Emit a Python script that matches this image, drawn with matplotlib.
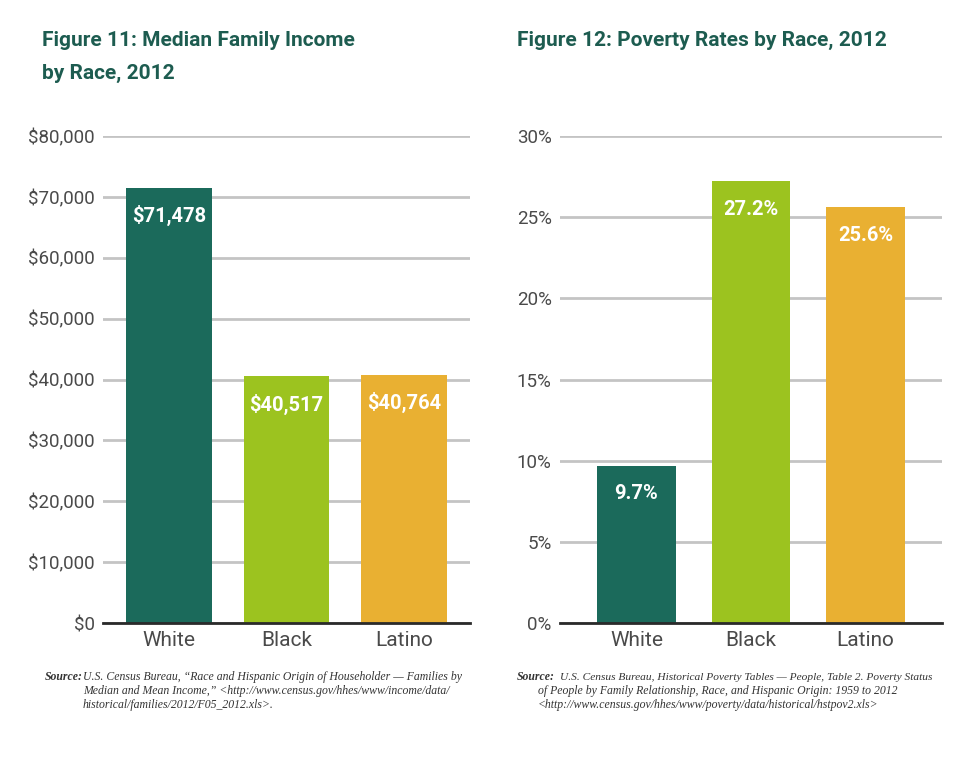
import matplotlib
matplotlib.use("Agg")
import matplotlib.pyplot as plt
from matplotlib.ticker import FuncFormatter

races = ["White", "Black", "Latino"]
income = [71478, 40517, 40764]
income_labels = ["$71,478", "$40,517", "$40,764"]
poverty = [9.7, 27.2, 25.6]
poverty_labels = ["9.7%", "27.2%", "25.6%"]

bar_colors = ["#1b6a5b", "#9cc31f", "#e9b032"]
title_color = "#1d5c50"

plt.rcParams["font.family"] = ["Roboto", "DejaVu Sans"]

fig = plt.figure(figsize=(9.8, 7.62), dpi=100)
ax1 = fig.add_axes([0.1051, 0.1824, 0.3745, 0.6391])
ax2 = fig.add_axes([0.5714, 0.1824, 0.3898, 0.6391])


def style_axes(ax, ymax, step, xpad):
    ax.set_ylim(0, ymax)
    ax.set_xlim(-xpad, 2 + xpad)
    ax.set_yticks(range(0, ymax + 1, step))
    ax.grid(axis="y", color="#c4c4c4", linewidth=2)
    ax.set_axisbelow(True)
    for s in ["top", "right", "left"]:
        ax.spines[s].set_visible(False)
    ax.spines["bottom"].set_color("#2a2a2a")
    ax.spines["bottom"].set_linewidth(2)
    ax.spines["bottom"].set_zorder(5)
    ax.tick_params(axis="both", length=0, colors="#4a4a4a")
    ax.tick_params(axis="y", pad=6, labelsize=13.5)
    ax.tick_params(axis="x", pad=6, labelsize=15)


# Figure 11
x = range(len(races))
ax1.bar(x, income, width=0.73, color=bar_colors, zorder=3)
style_axes(ax1, 80000, 10000, 0.56)
ax1.yaxis.set_major_formatter(FuncFormatter(lambda v, p: "${:,.0f}".format(v)))
ax1.set_xticks(list(x))
ax1.set_xticklabels(races)
for i, v in enumerate(income):
    ax1.annotate(income_labels[i], (i, v), xytext=(0, -20), textcoords="offset points",
                 ha="center", va="center", color="white", fontsize=14.5,
                 fontweight="bold", zorder=4)

# Figure 12
ax2.bar(x, poverty, width=0.684, color=bar_colors, zorder=3)
style_axes(ax2, 30, 5, 0.667)
ax2.yaxis.set_major_formatter(FuncFormatter(lambda v, p: "{:.0f}%".format(v)))
ax2.set_xticks(list(x))
ax2.set_xticklabels(races)
for i, v in enumerate(poverty):
    ax2.annotate(poverty_labels[i], (i, v), xytext=(0, -20), textcoords="offset points",
                 ha="center", va="center", color="white", fontsize=14.5,
                 fontweight="bold", zorder=4)

# titles
fig.text(42 / 980, 1 - 40 / 762, "Figure 11: Median Family Income", color=title_color,
         fontsize=15, fontweight="bold", va="center", ha="left")
fig.text(42 / 980, 1 - 73 / 762, "by Race, 2012", color=title_color,
         fontsize=15, fontweight="bold", va="center", ha="left")
fig.text(517 / 980, 1 - 40 / 762, "Figure 12: Poverty Rates by Race, 2012", color=title_color,
         fontsize=15, fontweight="bold", va="center", ha="left")

# sources
serif = ["Liberation Serif", "DejaVu Serif"]
src_kw = dict(fontsize=8.5, color="#333333", family=serif, style="italic", va="center")
fig.text(45 / 980, 1 - 677 / 762, "Source:", fontweight="bold", **src_kw)
fig.text(83 / 980, 1 - 677 / 762,
         "U.S. Census Bureau, \u201cRace and Hispanic Origin of Householder \u2014 Families by", **src_kw)
fig.text(83 / 980, 1 - 691 / 762,
         "Median and Mean Income,\u201d <http://www.census.gov/hhes/www/income/data/", **src_kw)
fig.text(83 / 980, 1 - 705 / 762, "historical/families/2012/F05_2012.xls>.", **src_kw)

fig.text(517 / 980, 1 - 677 / 762, "Source:", fontweight="bold", **src_kw)
fig.text(560 / 980, 1 - 677 / 762,
         "U.S. Census Bureau, Historical Poverty Tables \u2014 People, Table 2. Poverty Status",
         **dict(src_kw, fontsize=8.2))
fig.text(538 / 980, 1 - 691 / 762,
         "of People by Family Relationship, Race, and Hispanic Origin: 1959 to 2012", **src_kw)
fig.text(538 / 980, 1 - 705 / 762,
         "<http://www.census.gov/hhes/www/poverty/data/historical/hstpov2.xls>", **src_kw)

fig.savefig("out.png", dpi=100)
